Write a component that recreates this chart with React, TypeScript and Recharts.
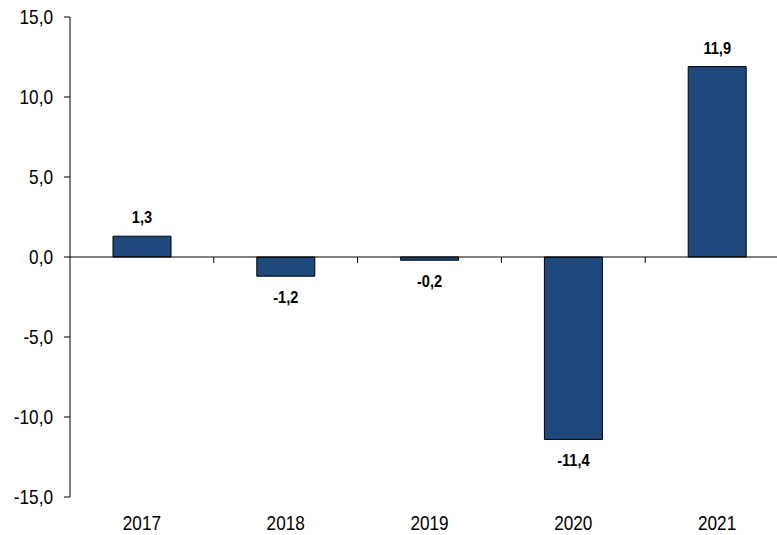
import React from 'react';
import {
  Bar,
  BarChart,
  LabelList,
  ReferenceLine,
  XAxis,
  YAxis,
} from 'recharts';

const years = ['2017', '2018', '2019', '2020', '2021'];
const growth = [1.3, -1.2, -0.2, -11.4, 11.9];
const yTicks = [-15, -10, -5, 0, 5, 10, 15];

const Y_MIN = -15;
const Y_MAX = 15;
const FONT = "'Liberation Sans', Arial, sans-serif";
// no narrow font installed, so squeeze the regular one horizontally
const SQUEEZE = 0.86;

const data = years.map((year, i) => ({ year, value: growth[i] }));

const fmt = (v: number) => v.toFixed(1).replace('.', ',');

function NarrowText({ x, y, anchor, size, bold, dy, children }: any) {
  return (
    <g transform={`translate(${x},${y})`}>
      <text
        transform={`scale(${SQUEEZE},1)`}
        textAnchor={anchor}
        dy={dy}
        fontSize={size}
        fontWeight={bold ? 'bold' : 'normal'}
        fontFamily={FONT}
        fill="#000"
      >
        {children}
      </text>
    </g>
  );
}

function YTick(props: any) {
  const { x, y, payload } = props;
  return (
    <NarrowText x={x} y={y} anchor="end" size={20} dy="0.355em">
      {fmt(Number(payload.value))}
    </NarrowText>
  );
}

function XTick(props: any) {
  const { x, y, payload } = props;
  return (
    <NarrowText x={x} y={y} anchor="middle" size={20} dy={0}>
      {payload.value}
    </NarrowText>
  );
}

function ValueLabel(props: any) {
  const { x, y, width, height, value } = props;
  const top = Math.min(y, y + height);
  const bottom = Math.max(y, y + height);
  const v = Number(value);
  const baseY = v >= 0 ? top - 13 : bottom + 27;
  return (
    <NarrowText x={x + width / 2} y={baseY} anchor="middle" size={17} bold dy={0}>
      {fmt(v)}
    </NarrowText>
  );
}

// short tick mark hanging under the zero line at each category boundary
function BoundaryTick(props: any) {
  const { x1, y1, y2 } = props;
  const top = Math.min(y1, y2);
  const bottom = Math.max(y1, y2);
  const zeroY = top + ((Y_MAX - 0) / (Y_MAX - Y_MIN)) * (bottom - top);
  return <line x1={x1} x2={x1} y1={zeroY} y2={zeroY + 6} stroke="#000" strokeWidth={1} />;
}

export default function App() {
  return (
    <div
      style={{
        position: 'fixed',
        left: 0,
        top: 0,
        width: 777,
        height: 535,
        overflow: 'hidden',
        background: '#fff',
      }}
    >
      <BarChart
        width={789}
        height={535}
        data={data}
        margin={{ top: 17, right: 0, bottom: 0, left: 0 }}
      >
        <XAxis
          dataKey="year"
          axisLine={false}
          tickLine={false}
          tickSize={0}
          tickMargin={33}
          height={38}
          tick={<XTick />}
        />
        <YAxis
          domain={[Y_MIN, Y_MAX]}
          ticks={yTicks}
          width={70}
          axisLine={{ stroke: '#000' }}
          tickLine={{ stroke: '#000' }}
          tickSize={6}
          tickMargin={11}
          tick={<YTick />}
        />
        <ReferenceLine y={0} stroke="#000" strokeWidth={1} />
        {years.slice(1).map((year) => (
          <ReferenceLine key={year} x={year} position="start" shape={BoundaryTick} />
        ))}
        <Bar
          dataKey="value"
          fill="#1F497D"
          stroke="#000"
          strokeWidth={1}
          barSize={58}
          isAnimationActive={false}
        >
          <LabelList dataKey="value" content={<ValueLabel />} />
        </Bar>
      </BarChart>
    </div>
  );
}
